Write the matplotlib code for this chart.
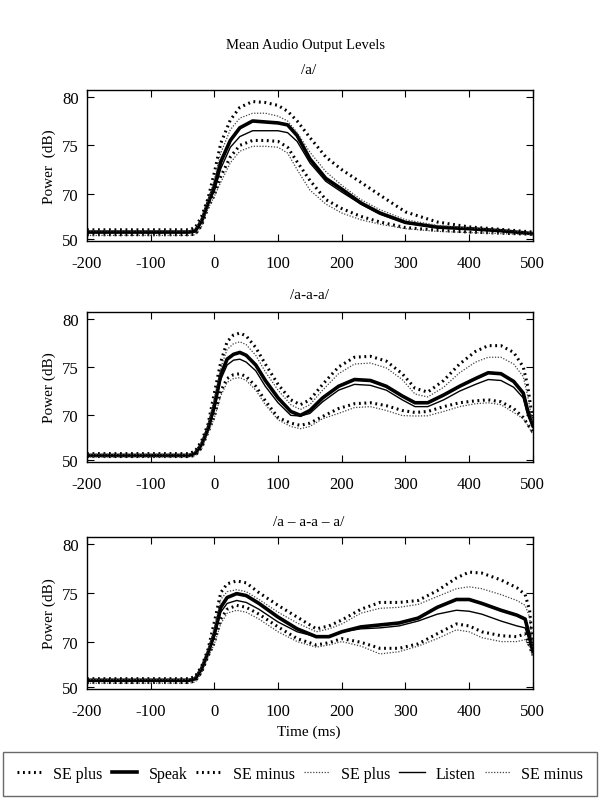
import numpy as np
import matplotlib
matplotlib.use("Agg")
import matplotlib.pyplot as plt
from matplotlib.lines import Line2D

plt.rcParams['font.family'] = ['Liberation Serif', 'DejaVu Serif']
plt.rcParams['axes.unicode_minus'] = False

# ---------------- data (real dB) ----------------
t1 = [-200, -40, -30, -20, -10, 0, 10, 25, 40, 60, 80, 100, 115, 130, 150, 175, 200, 230, 260, 300, 350, 400, 450, 500]
speak1 = [53, 53, 53.5, 58, 66, 70.8, 73.3, 75.5, 76.8, 77.5, 77.4, 77.3, 77.1, 76.0, 73.6, 71.6, 70.5, 66, 61.5, 57.3, 55.2, 54.5, 53.6, 52.3]
listen1 = [52.8, 52.8, 53.2, 57.5, 65.5, 70.3, 72.6, 74.8, 75.9, 76.5, 76.5, 76.5, 76.3, 75.4, 73.2, 71.3, 70.2, 65.5, 61, 57, 55, 54.3, 53.5, 52.2]
seplus_s1 = [54, 54, 55, 60, 68, 72.2, 75.2, 77.6, 78.9, 79.5, 79.4, 79.1, 78.5, 77.5, 75.8, 73.8, 72.5, 71.2, 69.5, 62, 57.5, 55.3, 54.2, 53]
seplus_l1 = [53.5, 53.5, 54.5, 59, 67, 71.5, 74.2, 76.6, 77.8, 78.3, 78.3, 78.0, 77.5, 76.3, 74.3, 72.3, 70.9, 67.5, 63, 58.5, 56, 54.8, 53.8, 52.6]
seminus_s1 = [51.8, 51.8, 52, 56, 64, 69.5, 71.8, 73.8, 75.0, 75.5, 75.5, 75.4, 74.8, 73.3, 71.4, 67.5, 63.5, 60, 57.5, 55, 53.8, 53, 52.5, 52]
seminus_l1 = [51.5, 51.5, 51.8, 55.5, 63.5, 69, 71.2, 73.2, 74.4, 74.9, 74.9, 74.8, 74.2, 72.5, 70.4, 65.5, 61.5, 58.5, 56.5, 54.5, 53.3, 52.8, 52.3, 51.8]

t2 = [-200, -40, -30, -20, -10, 0, 10, 20, 30, 40, 50, 65, 80, 100, 120, 135, 150, 170, 195, 220, 245, 270, 295, 315, 335, 360, 385, 410, 430, 450, 470, 485, 492, 500]
speak2 = [52, 52, 53, 57, 64, 71, 74.2, 75.8, 76.3, 76.5, 76.2, 75.2, 73.6, 71.8, 70.4, 70.0, 70.5, 71.8, 73.0, 73.7, 73.6, 73.0, 72.0, 71.3, 71.3, 72.1, 73.0, 73.8, 74.4, 74.3, 73.5, 72.3, 70.5, 65.5]
listen2 = [51.8, 51.8, 52.8, 56.5, 63.5, 70.6, 73.7, 75.2, 75.7, 75.8, 75.5, 74.6, 73.0, 71.3, 70.0, 69.7, 70.2, 71.4, 72.6, 73.2, 73.1, 72.6, 71.6, 70.9, 70.9, 71.6, 72.5, 73.2, 73.7, 73.6, 72.9, 71.8, 70.0, 64.5]
seplus_s2 = [52.8, 52.8, 54, 58.5, 66, 72.3, 75.5, 77.6, 78.3, 78.5, 78.2, 77, 75.3, 73.2, 71.6, 71.1, 71.6, 73.2, 75.0, 76.0, 76.1, 75.6, 74.3, 72.8, 72.4, 73.6, 75.3, 76.6, 77.2, 77.2, 76.5, 75.0, 73.0, 67.5]
seplus_l2 = [52.5, 52.5, 53.5, 58, 65.5, 71.8, 74.9, 76.8, 77.4, 77.6, 77.3, 76.2, 74.5, 72.6, 71.1, 70.6, 71.1, 72.6, 74.3, 75.3, 75.4, 74.9, 73.7, 72.2, 71.9, 72.9, 74.4, 75.5, 76.0, 76.0, 75.3, 74.0, 72.0, 66.5]
seminus_s2 = [51.5, 51.5, 52, 55.5, 62.5, 69.5, 72.5, 73.8, 74.2, 74.3, 74.0, 73.0, 71.5, 69.0, 66.5, 65.5, 66.5, 69.5, 70.7, 71.2, 71.3, 71.0, 70.5, 70.3, 70.4, 70.9, 71.3, 71.5, 71.6, 71.4, 70.7, 69.0, 66.0, 62.5]
seminus_l2 = [51.3, 51.3, 51.8, 55, 62, 69, 72.0, 73.4, 73.8, 73.9, 73.6, 72.6, 71.1, 68.0, 65.0, 64.0, 65.0, 68.5, 70.2, 70.8, 70.9, 70.5, 69.9, 69.7, 69.8, 70.4, 70.9, 71.2, 71.3, 71.1, 70.3, 68.5, 65.5, 61.5]

t3 = [-200, -40, -30, -20, -10, 0, 10, 20, 35, 50, 70, 100, 130, 160, 180, 200, 230, 260, 290, 320, 350, 380, 400, 420, 450, 475, 488, 495, 500]
speak3 = [52.8, 52.8, 53.5, 58, 65, 70.8, 73.5, 74.5, 74.9, 74.7, 73.9, 72.5, 71.3, 70.5, 70.5, 71.0, 71.5, 71.7, 71.9, 72.4, 73.5, 74.3, 74.3, 73.9, 73.2, 72.7, 72.3, 70.5, 65.5]
listen3 = [52.6, 52.6, 53.2, 57.5, 64.5, 70.5, 73.0, 73.9, 74.2, 74.0, 73.3, 72.0, 71.0, 70.5, 70.6, 71.0, 71.3, 71.4, 71.6, 72.1, 72.8, 73.2, 73.1, 72.8, 72.1, 71.6, 71.4, 70.0, 66]
seplus_s3 = [53.5, 53.5, 54.5, 59, 66.5, 72, 75.0, 75.9, 76.2, 76.0, 75.0, 73.7, 72.5, 71.3, 71.6, 72.2, 73.3, 74.0, 74.0, 74.2, 75.2, 76.5, 77.1, 77.0, 76.3, 75.5, 74.8, 73.2, 68]
seplus_l3 = [53.2, 53.2, 54, 58.5, 66, 71.5, 74.3, 75.1, 75.3, 75.1, 74.3, 73.0, 71.9, 71.0, 71.3, 71.8, 72.9, 73.4, 73.5, 73.8, 74.6, 75.4, 75.6, 75.4, 74.8, 74.2, 73.7, 72.5, 67.5]
seminus_s3 = [51.8, 51.8, 52.5, 56.5, 63.5, 69.5, 72.3, 73.3, 73.7, 73.5, 72.8, 71.5, 70.3, 68.5, 69.5, 70.3, 69.7, 67.0, 67.0, 69.0, 70.8, 71.8, 71.6, 71.0, 70.6, 70.5, 70.8, 68, 64]
seminus_l3 = [51.5, 51.5, 52, 56, 63, 69, 71.8, 72.9, 73.2, 73.0, 72.3, 71.0, 70.0, 67.5, 68.5, 70.0, 68.0, 64.5, 65.5, 68.0, 70.3, 71.2, 71.0, 70.4, 70.0, 70.0, 70.2, 67.5, 63.5]

panel_titles = ['/a/', '/a-a-a/', '/a \u2013 a-a \u2013 a/']
ylabels = ['Power  (dB)', 'Power (dB)', 'Power (dB)']
xticks = [-200, -100, 0, 100, 200, 300, 400, 500]
yticks = [50, 70, 75, 80]
legend_labels = ['SE plus', 'Speak', 'SE minus', 'SE plus', 'Listen', 'SE minus']

panels = [
    (t1, seplus_s1, speak1, seminus_s1, seplus_l1, listen1, seminus_l1),
    (t2, seplus_s2, speak2, seminus_s2, seplus_l2, listen2, seminus_l2),
    (t3, seplus_s3, speak3, seminus_s3, seplus_l3, listen3, seminus_l3),
]

# broken (compressed) scale below 70 dB
K = 0.23
def fwd(v):
    v = np.asarray(v, dtype=float)
    return np.where(v >= 70, v, 70 - (70 - v) * K)
def inv(t):
    t = np.asarray(t, dtype=float)
    return np.where(t >= 70, t, 70 - (70 - t) / K)

styles = [
    dict(color='black', lw=2.2, ls=(0, (0.6, 1.2))),   # SE plus speak
    dict(color='black', lw=2.6, ls='-'),               # Speak
    dict(color='black', lw=2.2, ls=(0, (0.6, 1.2))),   # SE minus speak
    dict(color='#444444', lw=0.9, ls=(0, (1, 1.3))),   # SE plus listen
    dict(color='black', lw=1.0, ls='-'),               # Listen
    dict(color='#444444', lw=0.9, ls=(0, (1, 1.3))),   # SE minus listen
]

fig = plt.figure(figsize=(6.0, 8.04), dpi=100)
rects = [
    [0.145, 0.699, 0.743, 0.188],
    [0.145, 0.424, 0.743, 0.187],
    [0.145, 0.142, 0.743, 0.189],
]
title_y = [70, 296, 522]
fig.text(0.5 + 0.01, 1 - 45 / 804, 'Mean Audio Output Levels', ha='center', va='center', fontsize=10.5)

for i, (rect, data) in enumerate(zip(rects, panels)):
    ax = fig.add_axes(rect)
    ax.set_yscale('function', functions=(fwd, inv))
    t = data[0]
    for series, st in zip(data[1:], styles):
        ax.plot(t, series, color=st['color'], lw=st['lw'], ls=st['ls'])
    ax.set_xlim(-200, 500)
    ax.set_ylim(49.0, 80.7)
    ax.set_xticks(xticks)
    ax.set_yticks(yticks)
    ax.set_yticklabels([str(v) for v in yticks])
    ax.minorticks_off()
    ax.tick_params(direction='in', top=True, right=True, labelsize=12, length=5, width=0.8)
    ax.tick_params(axis='x', pad=10)
    ax.tick_params(axis='y', pad=6)
    ax.set_ylabel(ylabels[i], fontsize=11, labelpad=4)
    fig.text(0.5 + 0.015, 1 - title_y[i] / 804, panel_titles[i], ha='center', va='center', fontsize=11)
    for s in ax.spines.values():
        s.set_linewidth(1.0)

fig.text(0.5 + 0.015, 1 - 732 / 804, 'Time (ms)', ha='center', va='center', fontsize=11)

handles = [Line2D([], [], color=st['color'], lw=st['lw'], ls=st['ls']) for st in styles]
leg = fig.legend(handles, legend_labels, loc='center',
                 bbox_to_anchor=(3 / 600, 1 - 797 / 804, 594 / 600, 44 / 804),
                 mode='expand', ncol=6, frameon=True, fontsize=11.5, handlelength=1.6,
                 handletextpad=0.7, columnspacing=0.4, fancybox=False,
                 edgecolor='#444444', borderpad=0.85, borderaxespad=0)
leg.get_frame().set_linewidth(1.0)

fig.savefig('out.png', dpi=100)
